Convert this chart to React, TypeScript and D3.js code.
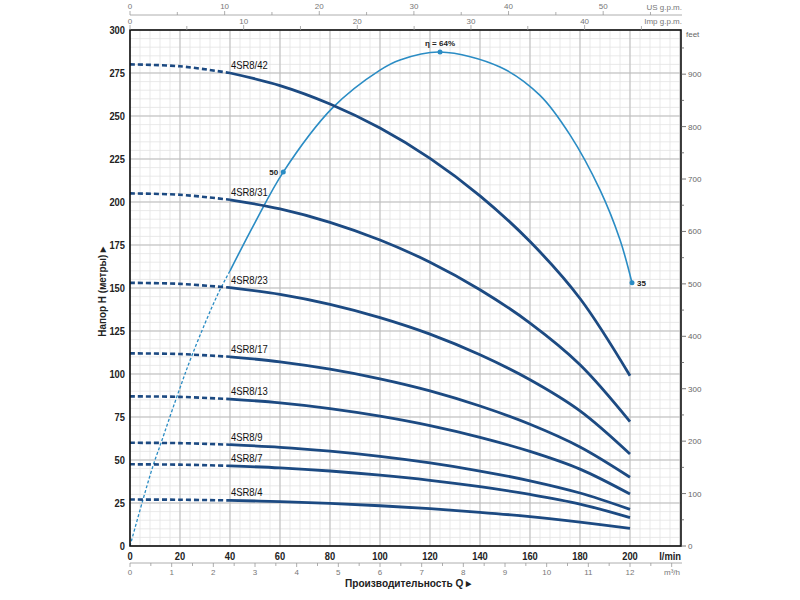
import React from "react";
import * as d3 from "d3";

// ---- data ----
const flowQ = [0, 20, 40, 60, 80, 100, 120, 140, 160, 180, 200];
const curveNames = ["4SR8/42", "4SR8/31", "4SR8/23", "4SR8/17", "4SR8/13", "4SR8/9", "4SR8/7", "4SR8/4"];
const head42 = [280, 278.9, 275, 267.7, 257, 243, 225.4, 203.6, 177, 143.9, 99];
const head31 = [205, 204.2, 201.3, 196, 188.2, 177.9, 165, 149, 129.6, 105.4, 72.3];
const head23 = [153, 152.4, 150.2, 146.3, 140.5, 132.8, 123.2, 111.2, 96.7, 78.6, 53.5];
const head17 = [112, 111.6, 110, 107.1, 102.8, 97.2, 90.2, 81.4, 70.8, 57.6, 40];
const head13 = [87, 86.7, 85.4, 83.2, 79.9, 75.5, 70, 63.2, 55, 44.7, 30.2];
const head9 = [60, 59.8, 58.9, 57.4, 55.1, 52.1, 48.3, 43.6, 37.9, 30.8, 21.3];
const head7 = [47.5, 47.3, 46.6, 45.4, 43.6, 41.2, 38.2, 34.5, 30, 24.4, 16.5];
const head4 = [27, 26.9, 26.5, 25.8, 24.8, 23.4, 21.7, 19.6, 17.1, 13.9, 10.3];
const heads = [head42, head31, head23, head17, head13, head9, head7, head4];

// efficiency curve drawn in head coordinates
const effQ = [0, 5, 9.3, 12.3, 18.7, 25, 35, 40, 50, 61.3, 81, 100, 108, 124, 148, 164, 176, 188, 196, 200.8];
const effH = [0, 26, 47, 59.5, 86.6, 111.6, 146, 160, 188, 217.4, 254.7, 276.7, 282.6, 287.2, 278.5, 262, 239, 207, 178, 153];
const effMarkQ = [61.3, 124, 200.8];
const effMarkH = [217.4, 287.2, 153];
const effMarkLabel = ["50", "η = 64%", "35"];

const leftTicks = [0, 25, 50, 75, 100, 125, 150, 175, 200, 225, 250, 275, 300];
const bottomTicks = [0, 20, 40, 60, 80, 100, 120, 140, 160, 180, 200];
const feetTicks = [0, 100, 200, 300, 400, 500, 600, 700, 800, 900];
const usTicks = [0, 10, 20, 30, 40, 50];
const impTicks = [0, 10, 20, 30, 40];
const m3hTicks = [0, 1, 2, 3, 4, 5, 6, 7, 8, 9, 10, 11, 12];

const NAVY = "#1c4a82";
const LIGHT = "#2a8cc4";
const FONT = "'Liberation Sans', Arial, sans-serif";

export default function App() {
  const x = d3.scaleLinear().domain([0, 220.4]).range([130, 681]);
  const y = d3.scaleLinear().domain([0, 300]).range([546, 30]);
  const yFt = d3.scaleLinear().domain([0, 300 * 3.28084]).range([546, 30]);
  const xUS = d3.scaleLinear().domain([0, 220.4 / 3.78541]).range([130, 681]);
  const xImp = d3.scaleLinear().domain([0, 220.4 / 4.54609]).range([130, 681]);
  const xM3 = d3.scaleLinear().domain([0, 220.4 * 0.06]).range([130, 681]);

  const L = 130, R = 681, T = 30, B = 546;

  const vMinor = d3.range(0, 221, 4);
  const vMajor = d3.range(0, 221, 20);
  const hMinor = d3.range(0, 301, 5);
  const hMajor = d3.range(0, 301, 25);

  const line = d3
    .line<[number, number]>()
    .x((d) => x(d[0]))
    .y((d) => y(d[1]))
    .curve(d3.curveCatmullRom.alpha(0.5));

  const effPts: [number, number][] = effQ.map((q, i) => [q, effH[i]]);
  const effDash = effPts.filter((p) => p[0] <= 40);
  const effSolid = effPts.filter((p) => p[0] >= 40);

  return (
    <svg
      width={800}
      height={600}
      style={{ position: "absolute", left: 0, top: 0, background: "#fff" }}
      fontFamily={FONT}
    >
      <rect x={0} y={0} width={800} height={600} fill="#fff" />
      {/* grid */}
      <g>
        {vMinor.map((v) => (
          <line key={"vm" + v} x1={x(v)} x2={x(v)} y1={T} y2={B} stroke="#e3e3e3" strokeWidth={0.8} />
        ))}
        {hMinor.map((v) => (
          <line key={"hm" + v} x1={L} x2={R} y1={y(v)} y2={y(v)} stroke="#e3e3e3" strokeWidth={0.8} />
        ))}
        {vMajor.map((v) => (
          <line key={"vM" + v} x1={x(v)} x2={x(v)} y1={T} y2={B} stroke="#bdbdbd" strokeWidth={1} />
        ))}
        {hMajor.map((v) => (
          <line key={"hM" + v} x1={L} x2={R} y1={y(v)} y2={y(v)} stroke="#bdbdbd" strokeWidth={1} />
        ))}
      </g>

      {/* efficiency curve */}
      <path d={line(effDash) || ""} fill="none" stroke={LIGHT} strokeWidth={1.3} strokeDasharray="3,2" />
      <path d={line(effSolid) || ""} fill="none" stroke={LIGHT} strokeWidth={1.6} />

      {/* pump curves */}
      {heads.map((h, i) => {
        const pts: [number, number][] = flowQ.map((q, j) => [q, h[j]]);
        const dash = pts.filter((p) => p[0] <= 40);
        const solid = pts.filter((p) => p[0] >= 40);
        return (
          <g key={curveNames[i]}>
            <path d={line(dash) || ""} fill="none" stroke={NAVY} strokeWidth={2.6} strokeDasharray="5,3" />
            <path d={line(solid) || ""} fill="none" stroke={NAVY} strokeWidth={2.8} />
            <text
              transform={`translate(${x(40) + 1},${y(h[2]) - 4}) scale(0.9,1)`}
              fontSize={10.5}
              fill="#111"
            >
              {curveNames[i]}
            </text>
          </g>
        );
      })}

      {/* efficiency markers */}
      {effMarkQ.map((q, i) => (
        <circle key={"em" + i} cx={x(q)} cy={y(effMarkH[i])} r={2.5} fill={LIGHT} />
      ))}
      <text x={x(effMarkQ[0]) - 5} y={y(effMarkH[0]) + 3} fontSize={8} fontWeight="bold" textAnchor="end" fill="#222">
        {effMarkLabel[0]}
      </text>
      <text x={x(effMarkQ[1])} y={y(effMarkH[1]) - 6} fontSize={8} fontWeight="bold" textAnchor="middle" fill="#222">
        {effMarkLabel[1]}
      </text>
      <text x={x(effMarkQ[2]) + 5} y={y(effMarkH[2]) + 3} fontSize={8} fontWeight="bold" textAnchor="start" fill="#222">
        {effMarkLabel[2]}
      </text>

      {/* frame */}
      <rect x={L} y={T} width={R - L} height={B - T} fill="none" stroke="#111" strokeWidth={1.6} />

      {/* left axis */}
      {leftTicks.map((t) => (
        <text
          key={"l" + t}
          transform={`translate(125,${y(t) + 4}) scale(0.85,1)`}
          fontSize={11}
          fontWeight="bold"
          textAnchor="end"
          fill="#222"
        >
          {t}
        </text>
      ))}
      <text
        transform={`translate(106,${(T + B) / 2 + 4}) rotate(-90) scale(0.9,1)`}
        fontSize={11}
        fontWeight="bold"
        textAnchor="middle"
        fill="#222"
      >
        Напор H (метры) ▸
      </text>

      {/* bottom axis l/min */}
      {bottomTicks.map((t) => (
        <text
          key={"b" + t}
          transform={`translate(${x(t)},560) scale(0.85,1)`}
          fontSize={11}
          fontWeight="bold"
          textAnchor="middle"
          fill="#222"
        >
          {t}
        </text>
      ))}
      <text transform="translate(681,560) scale(0.85,1)" fontSize={11} fontWeight="bold" textAnchor="end" fill="#222">
        l/min
      </text>

      {/* m3/h axis */}
      <line x1={130} x2={682} y1={563} y2={563} stroke="#999" strokeWidth={0.8} />
      {d3.range(0, 13.01, 0.5).map((t) => (
        <line key={"mt" + t} x1={xM3(t)} x2={xM3(t)} y1={563} y2={Number.isInteger(t) ? 567 : 566} stroke="#999" strokeWidth={0.8} />
      ))}
      {m3hTicks.map((t) => (
        <text key={"m" + t} x={xM3(t)} y={575} fontSize={8} textAnchor="middle" fill="#777">
          {t}
        </text>
      ))}
      <text x={680} y={575} fontSize={8} textAnchor="end" fill="#777">
        m³/h
      </text>
      <text transform="translate(345,587) scale(0.92,1)" fontSize={11} fontWeight="bold" fill="#222">
        Производительность Q ▸
      </text>

      {/* right axis feet */}
      {d3.range(0, 951, 50).map((t) => (
        <line key={"ft" + t} x1={R} x2={R + (t % 100 === 0 ? 5 : 3)} y1={yFt(t)} y2={yFt(t)} stroke="#555" strokeWidth={0.8} />
      ))}
      {feetTicks.map((t) => (
        <text key={"f" + t} x={688} y={yFt(t) + 3} fontSize={8} fill="#666">
          {t}
        </text>
      ))}
      <text x={686} y={37} fontSize={8} fill="#666">
        feet
      </text>

      {/* top US gpm axis */}
      <line x1={130} x2={682} y1={15} y2={15} stroke="#999" strokeWidth={0.8} />
      {d3.range(0, 56, 5).map((t) => (
        <line key={"ut" + t} x1={xUS(t)} x2={xUS(t)} y1={15} y2={t % 10 === 0 ? 11 : 12} stroke="#999" strokeWidth={0.8} />
      ))}
      {usTicks.map((t) => (
        <text key={"u" + t} x={xUS(t)} y={9} fontSize={8} textAnchor="middle" fill="#777">
          {t}
        </text>
      ))}
      <text x={682} y={10} fontSize={8} textAnchor="end" fill="#777">
        US g.p.m.
      </text>

      {/* top Imp gpm axis */}
      {d3.range(0, 46, 5).map((t) => (
        <line key={"it" + t} x1={xImp(t)} x2={xImp(t)} y1={T} y2={t % 10 === 0 ? 25 : 26} stroke="#999" strokeWidth={0.8} />
      ))}
      {impTicks.map((t) => (
        <text key={"i" + t} x={xImp(t)} y={24} fontSize={8} textAnchor="middle" fill="#777">
          {t}
        </text>
      ))}
      <text x={682} y={24} fontSize={8} textAnchor="end" fill="#777">
        Imp g.p.m.
      </text>
    </svg>
  );
}
